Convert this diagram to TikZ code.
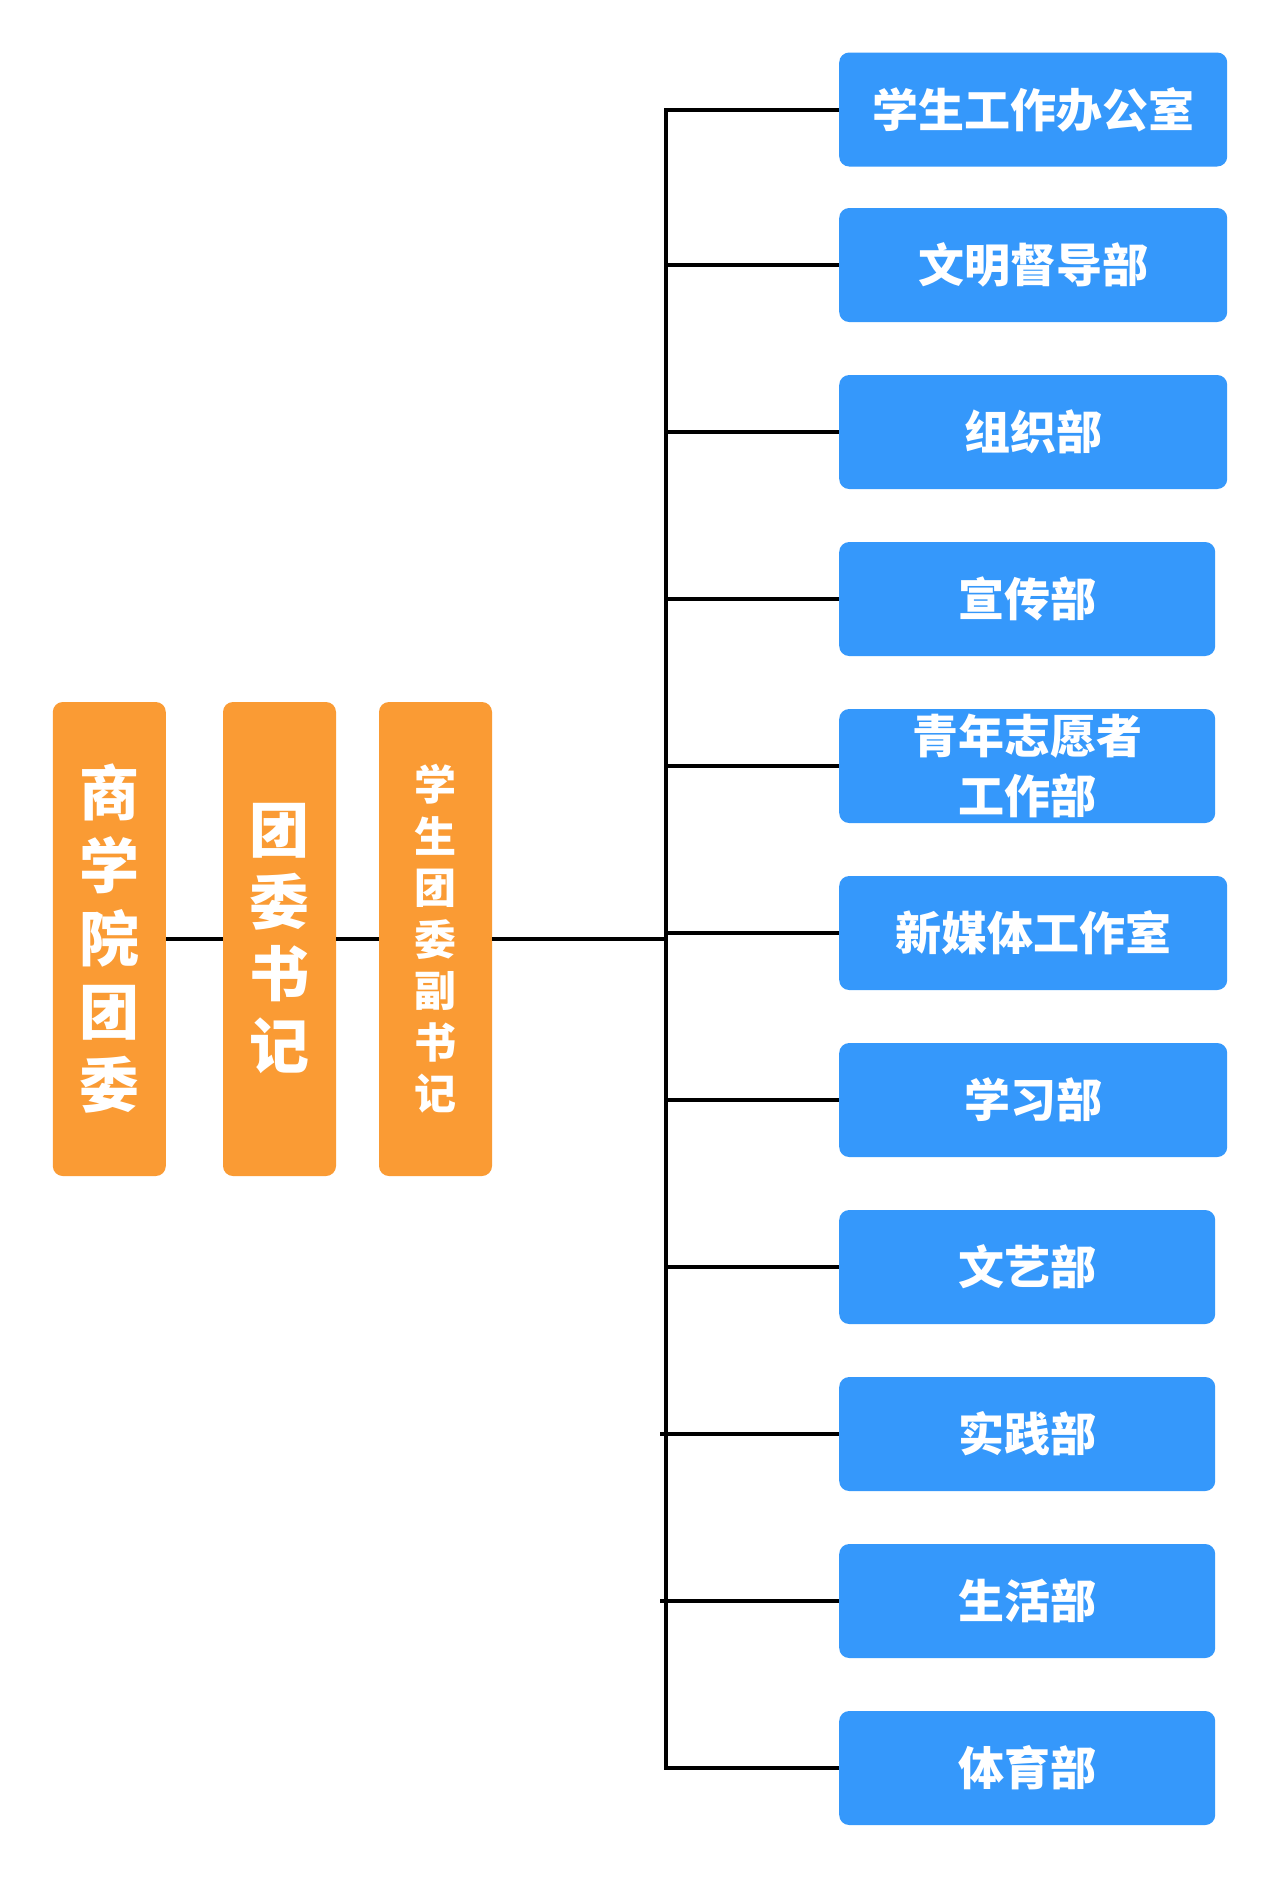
\documentclass[tikz,border=0pt]{standalone}
\usepackage{fontspec}
\newfontfamily\cjk{Noto Sans CJK SC}
\definecolor{orgorange}{RGB}{250,155,52}
\definecolor{deptblue}{RGB}{53,152,251}
\tikzset{
	orgbox/.style = {fill=orgorange, rounded corners=10pt, minimum width=113pt, minimum height=474pt, inner sep=0pt, text=white, align=center},
	deptbox/.style = {fill=deptblue, rounded corners=10pt, minimum height=114pt, inner sep=0pt, text=white, align=center, font=\cjk\bfseries\fontsize{46}{60}\selectfont},
	link/.style = {line width=4pt}
}
\begin{document}
\begin{tikzpicture}[x = 1pt, y = -1pt]
	\fill[white] (0,0) rectangle (1280,1877);
	\useasboundingbox (0,0) rectangle (1280,1877);
	\node[orgbox, font=\cjk\bfseries\fontsize{60}{73}\selectfont] (college) at (109.3,939) {商\\学\\院\\团\\委}; %left column
	\node[orgbox, font=\cjk\bfseries\fontsize{60}{72}\selectfont] (secretary) at (279.5,939) {团\\委\\书\\记};
	\node[orgbox, font=\cjk\bfseries\fontsize{42}{51.5}\selectfont] (deputy) at (435.5,939) {学\\生\\团\\委\\副\\书\\记};
	\coordinate (trunk) at (666,939); %vertical bus
	\foreach \i/\y/\w/\name in {1/109.5/388/学生工作办公室, 2/265/388/文明督导部, 3/432/388/组织部, 4/599/376/宣传部, 5/766/376/{青年志愿者\\工作部}, 6/933/388/新媒体工作室, 7/1100/388/学习部, 8/1267/376/文艺部, 9/1434/376/实践部, 10/1601/376/生活部, 11/1768/376/体育部}
		\node[deptbox, minimum width=\w pt, anchor=west] (dept\i) at (839,\y) {\name};
	\draw[link] (college) -- (secretary);
	\draw[link] (secretary) -- (deputy);
	\draw[link] (deputy) -- (trunk);
	\draw[link] (dept1.west) -| (trunk) |- (dept11.west);
	\foreach \i in {2,...,8}
		\draw[link] (dept\i.west -| trunk) -- (dept\i.west);
	\foreach \i in {9,10}
		\draw[link, shorten <=-6pt] (dept\i.west -| trunk) -- (dept\i.west);
\end{tikzpicture}
\end{document}
